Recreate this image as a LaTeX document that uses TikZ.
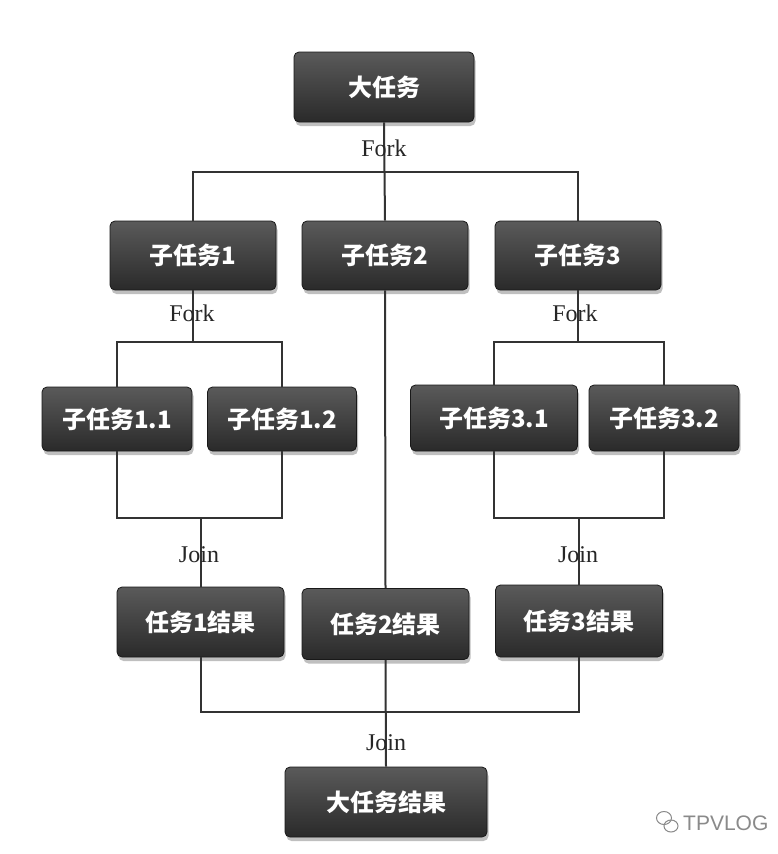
\documentclass[tikz,border=0pt]{standalone}
\usepackage{fontspec}
\setmainfont{Liberation Serif}
\newfontfamily\cjk{Noto Sans CJK SC}
\newfontfamily\wmfont{Liberation Sans}
\usetikzlibrary{shadows}
\definecolor{boxtop}{HTML}{5A5A5A}
\definecolor{boxbot}{HTML}{2A2A2A}
\definecolor{linec}{HTML}{333333}
\definecolor{wmgray}{HTML}{8A8A8A}
\begin{document}
\begin{tikzpicture}[x=1pt,y=-1pt,
  task/.style={draw=black!90, line width=0.8pt, rounded corners=5pt,
    top color=boxtop, bottom color=boxbot, text=white,
    font=\cjk\bfseries\fontsize{24}{27}\selectfont, inner sep=0pt,
    drop shadow={shadow xshift=1.5pt, shadow yshift=-4pt, opacity=0.25, fill=black}},
  conn/.style={draw=linec, line width=2pt},
  lbl/.style={font=\fontsize{24}{26}\selectfont, text=black!85, inner sep=0pt}]
\useasboundingbox[fill=white] (0,0) rectangle (778,854);

\coordinate (f0) at (384,172);
\coordinate (f1) at (0,342);
\coordinate (j1) at (0,518);
\coordinate (j3) at (0,712);

% nodes
\node[task, minimum width=180pt, minimum height=70pt] (top) at (384,87) {大任务};
\node[task, minimum width=166pt, minimum height=69pt] (s1) at (193,255.5) {子任务1};
\node[task, minimum width=166pt, minimum height=69pt] (s2) at (385,255.5) {子任务2};
\node[task, minimum width=166pt, minimum height=69pt] (s3) at (578,255.5) {子任务3};
\node[task, minimum width=150pt, minimum height=64pt] (s11) at (117,419) {子任务1.1};
\node[task, minimum width=149pt, minimum height=64pt] (s12) at (282,419) {子任务1.2};
\node[task, minimum width=167pt, minimum height=66pt] (s31) at (494,418) {子任务3.1};
\node[task, minimum width=150pt, minimum height=66pt] (s32) at (664,418) {子任务3.2};
\node[task, minimum width=167pt, minimum height=70pt] (r1) at (200.5,622) {任务1结果};
\node[task, minimum width=167pt, minimum height=71pt] (r2) at (385.5,624) {任务2结果};
\node[task, minimum width=167pt, minimum height=72pt] (r3) at (579,621) {任务3结果};
\node[task, minimum width=202pt, minimum height=70pt] (fin) at (386,802) {大任务结果};

% top fork
\draw[conn] (top.south) -- (s2.north);
\draw[conn] (s1.north) -- (s1.north |- f0) -- (s3.north |- f0) -- (s3.north);
% left fork/join
\draw[conn] (s1.south) -- (s1.south |- f1);
\draw[conn] (s11.north) -- (s11.north |- f1) -- (s12.north |- f1) -- (s12.north);
\draw[conn] (s11.south) -- (s11.south |- j1) -- (s12.south |- j1) -- (s12.south);
\draw[conn] (r1.north |- j1) -- (r1.north);
% middle
\draw[conn] (s2.south) -- (r2.north);
% right fork/join
\draw[conn] (s3.south) -- (s3.south |- f1);
\draw[conn] (s31.north) -- (s31.north |- f1) -- (s32.north |- f1) -- (s32.north);
\draw[conn] (s31.south) -- (s31.south |- j1) -- (s32.south |- j1) -- (s32.south);
\draw[conn] (r3.north |- j1) -- (r3.north);
% final join
\draw[conn] (r1.south) -- (r1.south |- j3) -- (r3.south |- j3) -- (r3.south);
\draw[conn] (r2.south) -- (fin.north);

% labels
\node[lbl] (lf0) at (384,148) {Fork};
\node[lbl] (lf1) at (192,313) {Fork};
\node[lbl] (lf3) at (575,313) {Fork};
\node[lbl] (lj1) at (199,555) {Join};
\node[lbl] (lj3) at (578,555) {Join};
\node[lbl] (lj0) at (386,743) {Join};

% watermark
\begin{scope}[draw=wmgray, line width=1pt]
  \draw (664,818) ellipse (7.5pt and 6.5pt);
  \draw (671,826) ellipse (7pt and 6pt);
\end{scope}
\node[font=\wmfont\fontsize{21}{23}\selectfont, text=wmgray, anchor=west, inner sep=0pt] (wm) at (683,823) {TPVLOG};
\end{tikzpicture}
\end{document}
